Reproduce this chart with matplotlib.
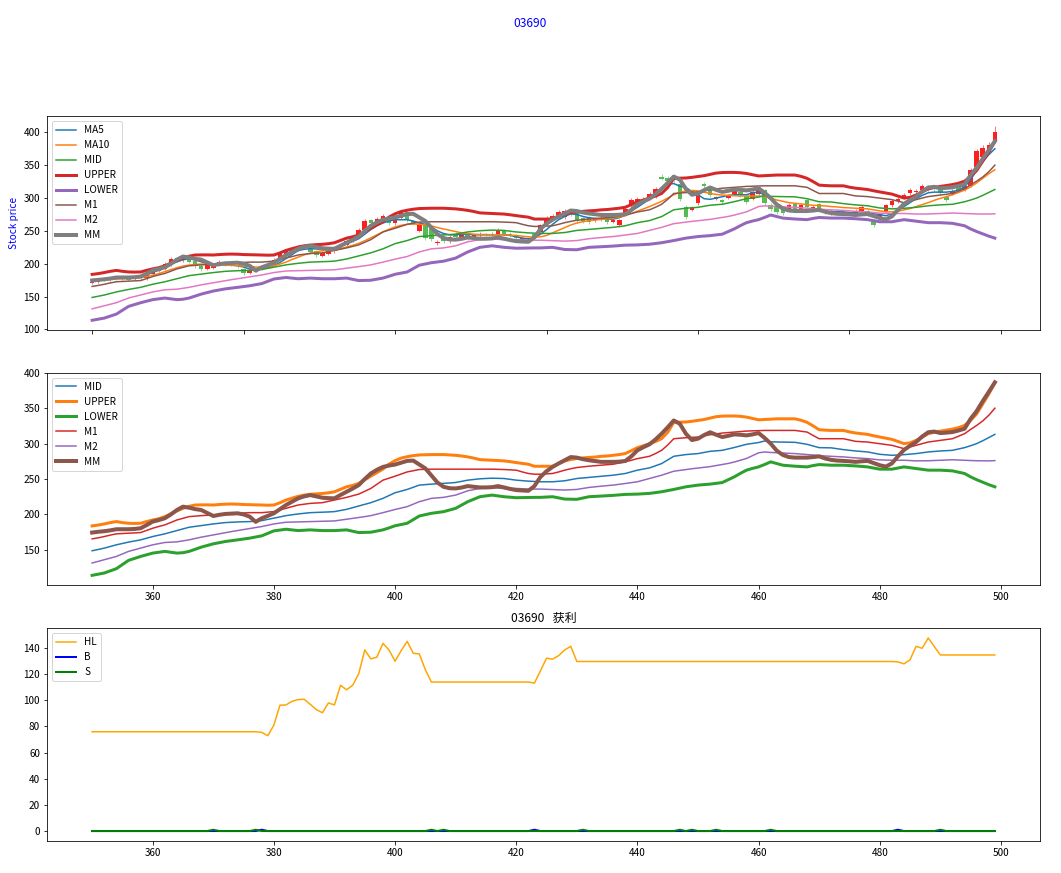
import matplotlib
matplotlib.use('Agg')
import matplotlib.pyplot as plt

# 中文字体
plt.rcParams['font.family'] = ['Noto Sans CJK SC', 'DejaVu Sans']
plt.rcParams['axes.unicode_minus'] = False

code = '03690'

# 交易日序号
days = list(range(350, 500))

# K线数据
opens = [170, 172, 175, 176, 179, 177, 179, 177, 180, 178,
         184, 189, 192, 199, 208, 205, 210, 204, 197, 192,
         194, 198, 199, 202, 198, 192, 186, 190, 193, 196,
         200, 207, 215, 219, 221, 227, 223, 219, 212, 215,
         219, 225, 229, 236, 241, 251, 266, 263, 267, 271,
         262, 270, 279, 265, 250, 261, 254, 232, 241, 234,
         246, 241, 244, 240, 243, 245, 244, 245, 250, 246,
         243, 236, 239, 245, 249, 261, 268, 272, 271, 281,
         279, 269, 271, 266, 268, 269, 264, 259, 276, 289,
         293, 297, 300, 302, 332, 331, 330, 322, 287, 282,
         292, 322, 312, 299, 297, 300, 306, 309, 303, 299,
         306, 312, 290, 286, 284, 283, 291, 284, 297, 282,
         291, 282, 276, 281, 277, 279, 276, 281, 281, 266,
         269, 281, 289, 296, 300, 307, 309, 312, 313, 316,
         314, 302, 306, 318, 313, 319, 347, 362, 370, 386]
closes = [172, 175, 176, 178, 177, 179, 176, 180, 178, 183,
          190, 193, 200, 207, 205, 210, 203, 196, 192, 199,
          197, 203, 201, 199, 196, 186, 190, 192, 196, 200,
          206, 216, 220, 222, 226, 225, 218, 214, 216, 220,
          224, 228, 235, 240, 252, 265, 262, 268, 272, 262,
          271, 278, 266, 262, 261, 239, 238, 233, 234, 240,
          241, 244, 239, 243, 245, 244, 246, 251, 246, 243,
          239, 239, 236, 240, 259, 269, 272, 279, 281, 276,
          265, 265, 264, 268, 270, 264, 266, 266, 284, 297,
          298, 299, 306, 314, 329, 326, 327, 299, 271, 286,
          304, 318, 304, 301, 294, 304, 310, 304, 294, 309,
          312, 292, 283, 279, 277, 290, 284, 290, 287, 287,
          282, 279, 281, 276, 279, 277, 280, 286, 274, 259,
          274, 289, 296, 299, 304, 312, 311, 319, 317, 313,
          307, 297, 311, 312, 318, 342, 372, 376, 381, 401]
highs = [174, 177, 178, 180, 180, 181, 180, 182, 181, 185,
         192, 195, 203, 210, 209, 213, 211, 205, 199, 201,
         199, 205, 204, 204, 200, 193, 192, 194, 198, 203,
         208, 219, 223, 225, 229, 229, 225, 221, 219, 223,
         227, 231, 238, 243, 255, 268, 268, 271, 275, 273,
         274, 281, 282, 267, 264, 263, 257, 236, 243, 243,
         248, 246, 246, 245, 248, 247, 248, 254, 252, 248,
         245, 242, 241, 247, 261, 272, 275, 282, 284, 284,
         281, 271, 273, 270, 272, 271, 268, 268, 287, 300,
         301, 302, 309, 317, 336, 334, 333, 325, 290, 288,
         306, 324, 315, 303, 299, 306, 313, 311, 305, 312,
         315, 314, 292, 288, 286, 293, 293, 293, 299, 290,
         293, 284, 284, 283, 281, 281, 283, 289, 283, 268,
         277, 291, 299, 302, 307, 315, 314, 322, 320, 319,
         316, 304, 314, 320, 321, 345, 375, 380, 385, 410]
lows = [169, 170, 173, 174, 175, 175, 174, 175, 176, 176,
        182, 187, 190, 197, 202, 203, 201, 193, 189, 190,
        192, 196, 197, 197, 194, 183, 184, 188, 191, 194,
        198, 205, 212, 216, 219, 222, 215, 211, 210, 213,
        216, 222, 227, 233, 239, 249, 259, 260, 265, 259,
        259, 268, 264, 259, 248, 236, 235, 229, 231, 232,
        238, 239, 236, 238, 241, 242, 242, 243, 243, 240,
        236, 233, 233, 238, 247, 259, 266, 270, 268, 273,
        262, 262, 261, 263, 265, 261, 262, 256, 274, 287,
        290, 295, 298, 300, 327, 323, 324, 296, 268, 280,
        290, 315, 301, 297, 291, 298, 304, 301, 291, 297,
        303, 289, 280, 276, 274, 281, 281, 282, 284, 279,
        279, 276, 274, 274, 275, 274, 274, 279, 272, 256,
        266, 279, 287, 293, 298, 305, 306, 310, 311, 311,
        304, 294, 304, 309, 311, 317, 344, 359, 367, 383]

# 均线
ma5 = [176, 176, 177, 177.5, 178, 178, 178.5, 179, 180, 183,
       187, 190, 194, 199, 203, 206, 208, 206, 203, 200,
       198, 198, 199, 198, 197, 195, 192, 191, 192, 194,
       197, 202, 208, 214, 220, 222, 223, 222.5, 222, 221,
       222, 226, 230, 234, 238, 245, 252, 258, 262, 265,
       267, 267, 267, 265, 262, 260, 256, 250, 246, 244,
       244, 245, 245, 244, 244, 244, 244, 244, 244, 243,
       241, 239, 238, 239, 245, 252, 260, 267, 272, 276,
       275, 272, 270, 269, 268, 268, 268, 270, 274, 280,
       286, 292, 299, 307, 315, 321, 322, 318, 316, 310,
       305, 299, 298, 300, 302, 304, 305, 305, 305, 308,
       309, 305, 298, 292, 286, 283, 282, 282, 282, 281.5,
       281, 280, 279.5, 279, 279, 278, 277, 277, 277, 276,
       275, 273, 276, 281, 287, 293, 299, 304, 308, 309,
       309, 309, 310, 312, 317, 328, 342, 355, 366, 375]
ma10 = [175, 175.5, 176, 176.5, 177, 177.5, 178, 178.5, 179, 180.5,
        182.5, 185, 188, 191, 194, 196.5, 198, 199, 199.5, 199.5,
        199, 198.5, 198, 197.5, 197, 196.5, 196, 195, 195, 195.5,
        197, 199.5, 202.5, 206.5, 210, 213.5, 216, 218, 220, 221,
        221.5, 223, 225.5, 228, 231, 235, 239.5, 244, 248.5, 252.5,
        256, 258.5, 260, 260.5, 260, 259, 257.5, 255, 253, 251,
        249, 247, 246, 245, 244.5, 244.5, 244, 244, 244, 243.5,
        243, 242, 241, 240.5, 241, 243, 247, 251, 255, 259,
        262, 264, 265.5, 266.5, 267.5, 268.5, 269.5, 271, 273, 276.5,
        280, 283.5, 287, 291, 295, 300, 305, 309, 310.5, 311.5,
        311, 309, 307, 305.5, 304.5, 304, 303.5, 303, 303, 303,
        303, 302, 300, 297, 295, 293, 292, 291, 290, 289,
        288.5, 288, 287, 286.5, 285.5, 285, 284.5, 284, 283.5, 282,
        280.5, 279, 279, 280, 282, 284, 287, 290, 293, 296.5,
        299.5, 302, 305, 308.5, 312, 317, 323, 330, 337, 343]

# 布林带
mid = [148.7, 150.5, 152.4, 154.8, 157.1, 159.0, 160.9, 162.5, 164.1, 166.5,
       168.8, 170.7, 172.6, 174.9, 177.2, 179.5, 181.9, 183.1, 184.3, 185.5,
       186.6, 187.5, 188.5, 189.0, 189.4, 189.7, 189.9, 190.6, 191.3, 193.0,
       194.6, 196.5, 198.3, 199.5, 200.7, 201.6, 202.5, 202.8, 203.0, 203.5,
       204.0, 205.6, 207.2, 209.5, 211.9, 214.3, 216.6, 219.6, 222.7, 226.6,
       230.6, 233.0, 235.3, 238.3, 241.4, 242.1, 242.8, 243.3, 243.7, 244.4,
       245.1, 246.8, 248.4, 249.4, 250.3, 250.8, 251.2, 251.0, 250.7, 249.6,
       248.4, 247.7, 247.0, 246.5, 246.1, 246.1, 246.1, 246.8, 247.5, 249.1,
       250.7, 251.5, 252.2, 253.1, 254.0, 254.7, 255.4, 256.6, 257.8, 260.1,
       262.5, 264.1, 265.7, 268.7, 271.8, 277.0, 282.1, 283.3, 284.5, 285.2,
       285.9, 287.5, 289.1, 289.8, 290.5, 292.5, 294.5, 296.8, 299.0, 300.3,
       301.5, 303.7, 302.5, 302.3, 302.2, 302.0, 301.8, 300.4, 299.0, 296.6,
       294.3, 294.1, 294.0, 292.7, 291.5, 290.5, 289.6, 288.9, 288.2, 286.5,
       284.9, 284.2, 283.5, 283.9, 284.4, 285.1, 285.9, 287.0, 288.2, 288.9,
       289.6, 290.0, 290.5, 292.4, 294.3, 297.0, 300.0, 304.0, 308.5, 313.0]
upper = [183.8, 185.0, 186.6, 188.5, 189.9, 188.5, 187.5, 187.3, 187.5, 190.0,
         192.2, 194.0, 196.9, 201.0, 205.0, 208.6, 211.5, 213.3, 213.5, 213.5,
         213.3, 214.0, 214.5, 214.7, 214.5, 214.0, 213.8, 213.5, 213.3, 213.0,
         213.3, 216.5, 220.3, 223.0, 225.5, 227.3, 228.5, 229.0, 229.6, 230.5,
         232.0, 235.5, 239.0, 241.0, 243.7, 249.0, 254.0, 259.0, 264.0, 271.0,
         276.0, 279.5, 281.5, 283.0, 284.0, 284.3, 284.5, 284.5, 284.5, 284.0,
         283.5, 282.5, 281.2, 279.5, 277.4, 277.0, 276.5, 276.0, 275.6, 274.5,
         273.2, 272.0, 270.9, 268.0, 268.0, 268.0, 268.0, 271.5, 275.5, 277.5,
         279.0, 279.8, 280.5, 281.0, 282.0, 282.5, 283.5, 284.5, 286.0, 290.0,
         294.3, 297.0, 300.0, 303.0, 307.0, 316.0, 330.0, 330.3, 330.5, 331.5,
         332.7, 334.0, 336.0, 338.0, 338.8, 339.0, 339.0, 338.5, 337.4, 335.5,
         333.6, 334.0, 334.5, 335.0, 335.0, 335.0, 335.0, 333.0, 330.0, 325.0,
         319.6, 319.0, 318.6, 318.6, 318.6, 316.5, 315.0, 314.0, 313.0, 311.0,
         309.3, 307.5, 306.0, 303.0, 300.0, 301.0, 304.6, 309.0, 314.0, 316.0,
         317.7, 319.0, 320.5, 322.5, 325.7, 332.7, 342.0, 356.0, 370.0, 386.0]
lower = [114.0, 115.6, 117.3, 120.3, 123.4, 129.2, 135.1, 137.9, 140.7, 143.0,
         145.4, 146.6, 147.8, 146.6, 145.4, 146.0, 147.8, 150.8, 153.8, 156.1,
         158.5, 160.1, 161.8, 162.9, 164.1, 165.3, 166.5, 168.1, 169.8, 173.3,
         176.8, 178.0, 179.1, 178.1, 177.2, 177.7, 178.2, 177.7, 177.2, 177.2,
         177.2, 177.7, 178.2, 176.3, 174.4, 174.6, 174.9, 176.5, 178.2, 181.0,
         184.0, 185.8, 187.5, 192.6, 197.8, 199.7, 201.6, 202.7, 203.9, 206.2,
         208.6, 213.3, 218.0, 221.5, 225.0, 226.1, 227.3, 226.1, 225.0, 224.3,
         223.6, 223.8, 224.1, 224.1, 224.1, 224.5, 225.0, 223.4, 221.7, 221.5,
         221.3, 223.1, 225.0, 225.4, 225.9, 226.4, 226.9, 227.6, 228.3, 228.5,
         228.7, 229.2, 229.7, 230.8, 232.0, 233.6, 235.3, 237.1, 239.0, 240.2,
         241.4, 242.1, 242.8, 243.9, 245.0, 249.0, 253.1, 258.0, 262.5, 265.0,
         267.1, 270.5, 274.2, 271.8, 269.5, 268.8, 268.1, 267.6, 267.1, 269.0,
         270.4, 270.0, 269.5, 269.5, 269.5, 269.0, 268.5, 267.8, 267.1, 265.5,
         263.9, 263.9, 263.9, 265.5, 267.1, 266.0, 264.8, 263.6, 262.5, 262.5,
         262.5, 262.0, 261.5, 259.7, 257.8, 253.0, 249.0, 245.5, 242.0, 239.0]
m1 = [165.5, 167.0, 168.8, 170.8, 172.6, 173.0, 173.5, 174.0, 174.4, 177.5,
      180.5, 183.0, 185.2, 188.7, 192.2, 194.5, 196.9, 197.6, 198.3, 198.8,
      199.3, 200.0, 200.7, 201.2, 201.6, 202.0, 202.5, 202.5, 202.5, 203.2,
      204.0, 206.3, 208.6, 211.0, 213.3, 214.5, 215.6, 216.1, 216.6, 218.5,
      220.3, 222.2, 224.1, 226.4, 228.7, 232.7, 236.7, 242.5, 248.4, 251.2,
      254.0, 257.0, 260.0, 261.7, 263.4, 263.7, 263.9, 263.9, 263.9, 263.9,
      263.9, 263.9, 263.9, 263.9, 263.9, 263.9, 263.9, 263.7, 263.4, 263.0,
      262.5, 260.0, 257.8, 256.8, 256.8, 257.3, 257.8, 260.0, 262.5, 264.5,
      266.2, 267.2, 268.1, 268.8, 269.5, 270.2, 270.9, 272.5, 274.2, 276.5,
      278.8, 280.5, 282.1, 286.0, 290.5, 298.0, 306.9, 307.6, 308.3, 308.8,
      309.3, 311.0, 312.5, 313.7, 314.9, 315.6, 316.3, 317.0, 317.7, 318.0,
      318.3, 318.6, 318.6, 318.6, 318.6, 318.6, 318.6, 317.5, 316.3, 311.5,
      306.9, 306.9, 306.9, 306.9, 306.9, 305.0, 303.2, 302.7, 302.2, 301.0,
      299.9, 298.7, 297.6, 295.3, 292.9, 295.3, 297.6, 299.9, 302.2, 303.4,
      304.6, 305.8, 306.9, 310.5, 314.0, 320.0, 325.7, 332.0, 340.0, 350.0]
m2 = [131.4, 133.7, 136.0, 138.3, 140.7, 144.2, 147.8, 150.1, 152.4, 154.8,
      157.1, 158.7, 160.4, 160.8, 161.3, 162.7, 164.1, 166.0, 167.9, 169.5,
      171.2, 172.8, 174.4, 175.8, 177.2, 178.6, 180.0, 181.4, 182.9, 184.7,
      186.6, 187.8, 189.0, 189.2, 189.4, 189.6, 189.9, 190.1, 190.4, 190.6,
      190.8, 192.0, 193.2, 194.3, 195.5, 196.9, 198.3, 200.4, 202.5, 204.8,
      207.0, 209.0, 211.0, 214.5, 218.0, 220.3, 222.7, 223.4, 224.1, 225.7,
      227.3, 230.3, 233.4, 235.0, 236.7, 237.2, 237.6, 237.2, 236.7, 236.7,
      236.7, 236.2, 235.8, 235.8, 235.8, 235.5, 235.3, 234.8, 234.4, 234.8,
      235.3, 236.7, 238.1, 239.0, 240.0, 240.7, 241.4, 242.5, 243.7, 244.9,
      246.1, 248.4, 250.7, 253.0, 255.4, 258.2, 261.0, 262.2, 263.4, 264.5,
      265.5, 266.5, 267.5, 269.0, 270.5, 272.0, 274.0, 276.5, 279.0, 283.0,
      287.0, 288.2, 287.5, 287.1, 286.8, 286.3, 285.9, 285.2, 284.5, 283.7,
      283.0, 282.5, 282.1, 281.6, 281.2, 280.5, 279.8, 279.3, 278.8, 277.9,
      277.0, 276.7, 276.5, 276.5, 276.5, 276.0, 275.6, 275.7, 275.8, 276.1,
      276.5, 276.8, 277.2, 276.8, 276.5, 276.1, 275.8, 275.7, 275.6, 276.0]
mm = [174.4, 175.5, 176.3, 177.5, 179.1, 179.1, 179.1, 179.5, 180.5, 185.0,
      189.9, 192.0, 194.6, 200.0, 206.3, 211.0, 209.5, 207.5, 206.3, 202.0,
      197.8, 199.5, 200.7, 201.2, 201.6, 200.0, 196.9, 189.5, 194.6, 198.0,
      201.6, 207.5, 213.3, 218.0, 222.7, 225.5, 227.3, 225.5, 223.6, 223.0,
      222.7, 227.5, 232.0, 236.5, 241.4, 250.0, 257.8, 263.0, 267.1, 269.0,
      270.4, 273.0, 275.6, 276.0, 270.5, 265.0, 255.0, 245.0, 239.0, 237.0,
      236.7, 238.0, 240.0, 239.0, 238.1, 238.1, 238.5, 240.0, 238.1, 236.0,
      234.4, 233.8, 233.4, 240.0, 253.0, 261.0, 267.1, 272.0, 276.5, 281.0,
      280.2, 278.0, 276.5, 275.3, 274.2, 274.2, 274.2, 274.5, 275.5, 282.0,
      290.5, 295.0, 299.0, 306.0, 314.0, 323.0, 332.7, 328.0, 314.0, 305.0,
      306.9, 312.0, 316.0, 312.5, 309.3, 311.0, 313.0, 312.5, 311.6, 313.0,
      314.9, 308.0, 300.0, 290.0, 284.0, 281.0, 280.2, 280.2, 280.2, 281.0,
      282.0, 279.0, 277.0, 276.0, 275.6, 275.0, 274.2, 275.0, 275.6, 272.5,
      269.5, 267.5, 272.0, 282.0, 291.0, 297.0, 302.2, 310.0, 316.0, 317.0,
      314.9, 315.5, 316.3, 318.5, 321.0, 335.0, 346.0, 360.0, 373.0, 386.5]

# 获利数据
hl = [75.9, 75.9, 75.9, 75.9, 75.9, 75.9, 75.9, 75.9, 75.9, 75.9,
      75.9, 75.9, 75.9, 75.9, 75.9, 75.9, 75.9, 75.9, 75.9, 75.9,
      75.9, 75.9, 75.9, 75.9, 75.9, 75.9, 75.9, 75.9, 75.4, 72.9,
      81.0, 96.2, 96.4, 99.2, 100.5, 100.7, 96.9, 92.9, 90.4, 97.9,
      96.4, 111.4, 108.0, 111.4, 120.2, 138.4, 131.6, 132.9, 143.5, 138.4,
      129.8, 137.9, 145.0, 135.9, 135.4, 123.3, 113.9, 113.9, 113.9, 113.9,
      113.9, 113.9, 113.9, 113.9, 113.9, 113.9, 113.9, 113.9, 113.9, 113.9,
      113.9, 113.9, 113.9, 113.1, 122.5, 132.1, 131.4, 134.1, 138.4, 141.2,
      129.6, 129.6, 129.6, 129.6, 129.6, 129.6, 129.6, 129.6, 129.6, 129.6,
      129.6, 129.6, 129.6, 129.6, 129.6, 129.6, 129.6, 129.6, 129.6, 129.6,
      129.6, 129.6, 129.6, 129.6, 129.6, 129.6, 129.6, 129.6, 129.6, 129.6,
      129.6, 129.6, 129.6, 129.6, 129.6, 129.6, 129.6, 129.6, 129.6, 129.6,
      129.6, 129.6, 129.6, 129.6, 129.6, 129.6, 129.6, 129.6, 129.6, 129.6,
      129.6, 129.6, 129.6, 129.3, 127.8, 130.9, 141.2, 139.7, 147.6, 141.0,
      134.6, 134.6, 134.6, 134.6, 134.6, 134.6, 134.6, 134.6, 134.6, 134.6]
# 买入/卖出信号日
buy_days = [378, 423, 483]
sell_days = [370, 377, 406, 408, 431, 447, 449, 453, 462, 490]
b = [1 if d in buy_days else 0 for d in days]
s = [1 if d in sell_days else 0 for d in days]


def candles(ax):
    # 阳线红色, 阴线绿色
    colors = ['#ff1f1f' if c >= o else '#55bb55' for o, c in zip(opens, closes)]
    ax.vlines(days, lows, highs, colors=colors, linewidth=1, alpha=0.6)
    ax.bar(days, [c - o for o, c in zip(opens, closes)], width=0.75,
           bottom=opens, color=colors)


def pic():
    fig = plt.figure(figsize=(1061 / 72, 873 / 72), dpi=72)
    fig.suptitle(code, color='blue')

    # K线 + 指标
    ax = fig.add_axes([0.0443, 0.622, 0.9359, 0.2451])
    candles(ax)
    ax.plot(days, ma5, label='MA5')
    ax.plot(days, ma10, label='MA10')
    ax.plot(days, mid, label='MID')
    ax.plot(days, upper, lw=3, label='UPPER')
    ax.plot(days, lower, lw=3, label='LOWER')
    ax.plot(days, m1, label='M1')
    ax.plot(days, m2, label='M2')
    ax.plot(days, mm, lw=4, label='MM')
    ax.set_ylabel('Stock price', color='blue')
    ax.set_xticks(range(350, 501, 25))
    ax.set_xticklabels([])
    ax.legend(loc=2)

    # 指标单独
    ax1 = fig.add_axes([0.0443, 0.3299, 0.9359, 0.2432])
    ax1.plot(days, mid, label='MID')
    ax1.plot(days, upper, lw=3, label='UPPER')
    ax1.plot(days, lower, lw=3, label='LOWER')
    ax1.plot(days, m1, label='M1')
    ax1.plot(days, m2, label='M2')
    ax1.plot(days, mm, lw=4, label='MM')
    ax1.legend(loc=2)
    ax.set_xlim(ax1.get_xlim())

    # 获利
    ax2 = fig.add_axes([0.0443, 0.037, 0.9359, 0.2433])
    ax2.plot(days, hl, color='orange', label='HL')
    ax2.plot(days, b, color='blue', lw=2, label='B')
    ax2.plot(days, s, color='green', lw=2, label='S')
    ax2.set_title(code + '   获利')
    ax2.legend(loc=2)

    fig.savefig('out.png', dpi=72)


if __name__ == '__main__':
    pic()
